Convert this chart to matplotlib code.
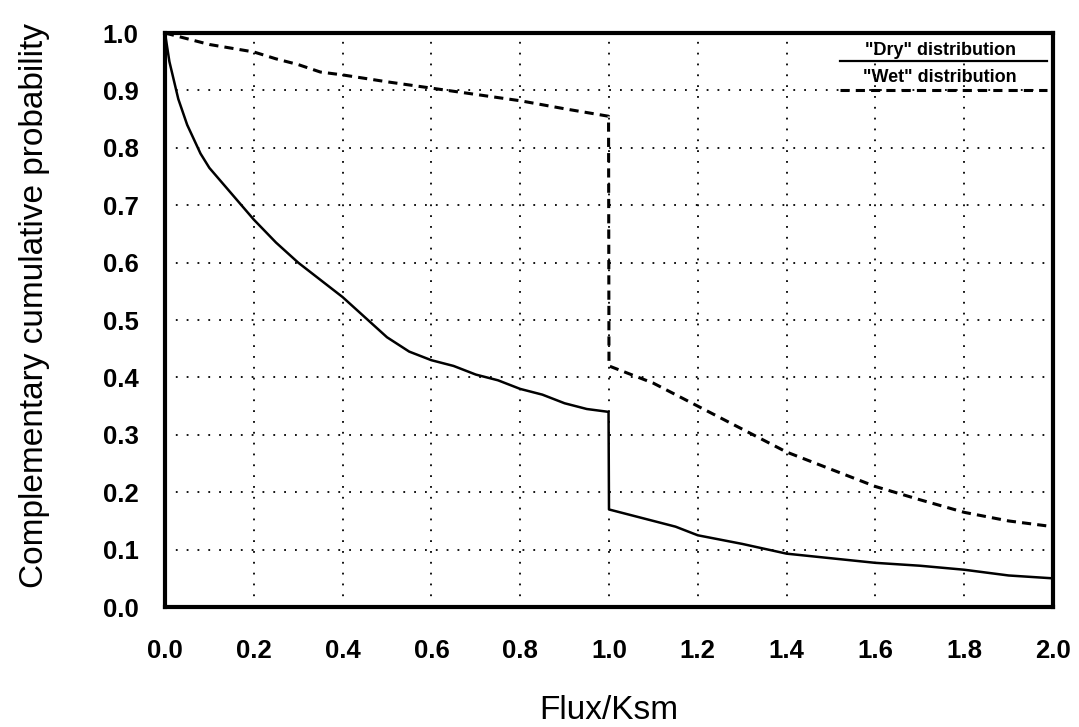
import matplotlib
matplotlib.use("Agg")
import matplotlib.pyplot as plt
from matplotlib.lines import Line2D

plt.rcParams['font.family'] = ['Liberation Sans', 'DejaVu Sans']

# "Dry" distribution (solid)
dry_x = [0.0, 0.01, 0.03, 0.05, 0.08, 0.1, 0.15, 0.2, 0.25, 0.3, 0.35, 0.4, 0.45, 0.5,
         0.55, 0.6, 0.65, 0.7, 0.75, 0.8, 0.85, 0.9, 0.95, 0.999,
         1.0, 1.05, 1.1, 1.15, 1.2, 1.3, 1.4, 1.5, 1.6, 1.7, 1.8, 1.9, 2.0]
dry_y = [1.0, 0.95, 0.885, 0.84, 0.79, 0.765, 0.72, 0.675, 0.635, 0.60, 0.57, 0.54, 0.505, 0.47,
         0.445, 0.43, 0.42, 0.405, 0.395, 0.38, 0.37, 0.355, 0.345, 0.34,
         0.17, 0.16, 0.15, 0.14, 0.125, 0.11, 0.093, 0.085, 0.077, 0.072, 0.065, 0.055, 0.05]

# "Wet" distribution (dashed)
wet_x = [0.0, 0.05, 0.1, 0.2, 0.25, 0.3, 0.35, 0.4, 0.5, 0.6, 0.7, 0.8, 0.9, 0.999,
         1.0, 1.1, 1.2, 1.3, 1.4, 1.5, 1.6, 1.7, 1.8, 1.9, 2.0]
wet_y = [1.0, 0.99, 0.98, 0.967, 0.955, 0.945, 0.932, 0.927, 0.915, 0.904, 0.893, 0.882, 0.868, 0.855,
         0.42, 0.39, 0.35, 0.31, 0.27, 0.24, 0.21, 0.187, 0.165, 0.15, 0.14]

x_ticks = [0.0, 0.2, 0.4, 0.6, 0.8, 1.0, 1.2, 1.4, 1.6, 1.8, 2.0]
y_ticks = [0.0, 0.1, 0.2, 0.3, 0.4, 0.5, 0.6, 0.7, 0.8, 0.9, 1.0]

fig = plt.figure(figsize=(10.79, 7.27), dpi=100)
ax = fig.add_axes([0.1529, 0.165, 0.823, 0.7896])

ax.plot(dry_x, dry_y, color='black', lw=1.8)
ax.plot(wet_x, wet_y, color='black', lw=2.2, linestyle=(0, (3, 2)))

ax.set_xlim(0, 2.0)
ax.set_ylim(0, 1.0)
ax.set_xticks(x_ticks)
ax.set_yticks(y_ticks)
ax.set_xticklabels([f"{v:.1f}" for v in x_ticks], fontsize=18.5, fontweight='bold')
ax.set_yticklabels([f"{v:.1f}" for v in y_ticks], fontsize=18.5, fontweight='bold')
ax.tick_params(length=0)
ax.tick_params(axis='x', pad=23)
ax.tick_params(axis='y', pad=19)
ax.grid(True, color='black', linestyle=(0, (1, 5)), lw=1.3)

for s in ax.spines.values():
    s.set_linewidth(3)

ax.set_xlabel("Flux/Ksm", fontsize=24)
ax.xaxis.set_label_coords(0.5, -0.153)
ax.set_ylabel("Complementary cumulative probability", fontsize=24)
ax.yaxis.set_label_coords(-0.13, 0.526)

# hand-made legend
ax.text(0.873, 0.970, '"Dry" distribution', transform=ax.transAxes, ha='center', va='center',
        fontsize=13, fontweight='bold')
ax.add_line(Line2D([0.76, 0.993], [0.951, 0.951], transform=ax.transAxes, color='black', lw=1.6))
ax.text(0.873, 0.923, '"Wet" distribution', transform=ax.transAxes, ha='center', va='center',
        fontsize=13, fontweight='bold')
ax.add_line(Line2D([0.76, 0.993], [0.901, 0.901], transform=ax.transAxes, color='black', lw=2.2,
                   linestyle=(0, (3, 2))))

fig.savefig("out.png", dpi=100)
